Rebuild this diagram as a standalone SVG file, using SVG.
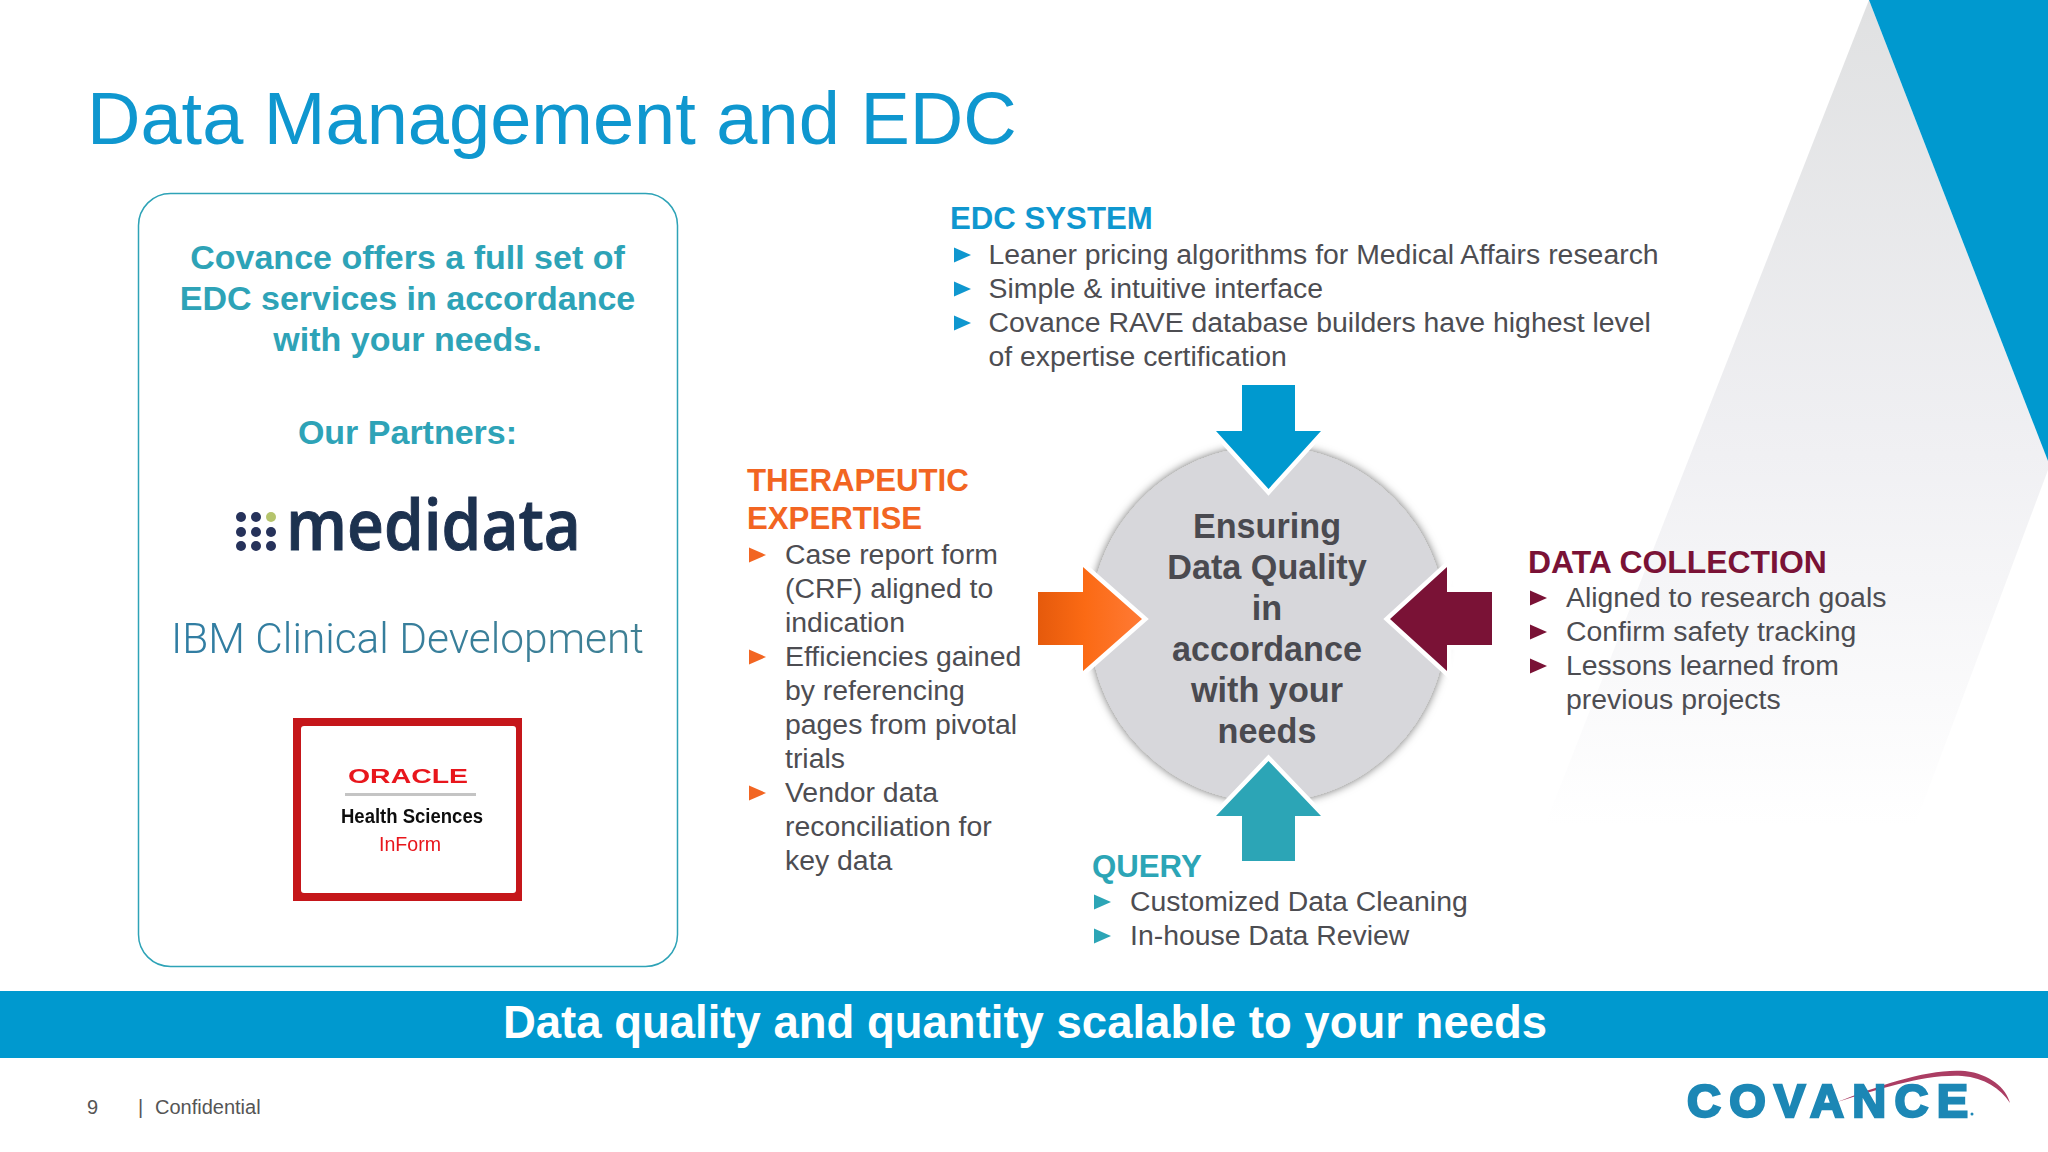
<svg xmlns="http://www.w3.org/2000/svg" width="2048" height="1152" viewBox="0 0 2048 1152">
<style>
text{font-family:"Liberation Sans",Arial,sans-serif}
.body{font-size:28.4px;fill:#4d4d52}
.head{font-size:31.2px;font-weight:700}
.panel{font-size:34px;font-weight:700;fill:#2ea3b7;text-anchor:middle}
.core{font-size:34.2px;font-weight:700;fill:#4a4a50;text-anchor:middle}
.arrow{stroke:#fff;stroke-width:9;stroke-linejoin:miter;stroke-miterlimit:6;paint-order:stroke}
</style>
<defs>
<linearGradient id="gGray" x1="0" y1="0" x2="0" y2="1"><stop offset="0" stop-color="#e0e1e2"/><stop offset=".55" stop-color="#f0f0f3"/><stop offset="1" stop-color="#fff"/></linearGradient>
<linearGradient id="gOrange" x1="0" y1="0" x2="1" y2="0"><stop offset="0" stop-color="#e55a0c"/><stop offset=".45" stop-color="#fb6a14"/><stop offset="1" stop-color="#ff7a35"/></linearGradient>
<linearGradient id="gIbm" x1="0" y1="0" x2="1" y2="0"><stop offset="0" stop-color="#2f7da3"/><stop offset="1" stop-color="#3f8094"/></linearGradient>
<filter id="soft" x="-5%" y="-20%" width="110%" height="140%"><feGaussianBlur stdDeviation="0.7"/></filter>
<filter id="shadow" x="-15%" y="-15%" width="130%" height="130%"><feDropShadow dx="0" dy="0" stdDeviation="5" flood-color="#000" flood-opacity=".6"/></filter>
<polygon id="bul" points="0,-7.5 17,0 0,7.5"/>
</defs>
<rect width="2048" height="1152" fill="#fff"/>
<g id="background">
<polygon points="1869,0 2048,461 2048,470 1915,825 1545,825" fill="url(#gGray)"/>
<polygon points="1869,0 2048,0 2048,461" fill="#0099cf"/>
</g>
<text id="title" x="87" y="144" font-size="74" fill="#0f97cf">Data Management and EDC</text>

<g id="partners-panel">
<rect x="138.500" y="193.500" width="539" height="773" rx="32" fill="#fff" stroke="#2ea3b7" stroke-width="1.500"/>
<text class="panel" x="407.500" y="269">Covance offers a full set of</text>
<text class="panel" x="407.500" y="310">EDC services in accordance</text>
<text class="panel" x="407.500" y="351">with your needs.</text>
<text class="panel" x="407.500" y="444">Our Partners:</text>
</g>
<g id="logo-medidata" filter="url(#soft)">
<g fill="#25305a">
<circle cx="241" cy="517" r="5"/><circle cx="256" cy="517" r="5"/><circle cx="271" cy="517" r="5" fill="#b5c46c"/>
<circle cx="241" cy="532" r="5"/><circle cx="256" cy="532" r="5"/><circle cx="271" cy="532" r="5"/>
<circle cx="241" cy="546" r="5"/><circle cx="256" cy="546" r="5"/><circle cx="271" cy="546" r="5"/>
</g>
<text x="286" y="550" font-size="71" style="font-family:'Open Sans','Liberation Sans',sans-serif" font-weight="600" fill="#1e3050" stroke="#1e3050" stroke-width="1" textLength="295" lengthAdjust="spacingAndGlyphs">medidata</text>
</g>
<g id="logo-ibm" filter="url(#soft)">
<text x="171" y="653" font-size="43" style="font-family:Roboto,'Liberation Sans',sans-serif" font-weight="300" fill="url(#gIbm)" textLength="473" lengthAdjust="spacingAndGlyphs">IBM Clinical Development</text>
</g>
<g id="logo-oracle">
<rect x="293" y="718" width="229" height="183" fill="#c5161a"/>
<rect x="301" y="726" width="215" height="167" rx="3" fill="#fff"/>
<g filter="url(#soft)">
<text x="348" y="783" font-size="20" font-weight="700" fill="#e8141b" textLength="120" lengthAdjust="spacingAndGlyphs">ORACLE</text>
<rect x="345" y="793" width="131" height="3" fill="#c4c4c4"/>
<text x="341" y="823" font-size="19.500" font-weight="700" fill="#111" textLength="142" lengthAdjust="spacingAndGlyphs">Health Sciences</text>
<text x="379" y="851" font-size="19.500" fill="#e8141b" textLength="62" lengthAdjust="spacingAndGlyphs">InForm</text>
</g>
</g>

<g id="core">
<circle cx="1268" cy="624" r="178" fill="#d7d7db" filter="url(#shadow)"/>
<text class="core" x="1267" y="538">Ensuring</text>
<text class="core" x="1267" y="579">Data Quality</text>
<text class="core" x="1267" y="620">in</text>
<text class="core" x="1267" y="661">accordance</text>
<text class="core" x="1267" y="702">with your</text>
<text class="core" x="1267" y="743">needs</text>
</g>

<g id="connectors">
<polygon class="arrow" fill="#0099cf" points="1242,385 1295,385 1295,431 1321,431 1268.500,489 1216,431 1242,431"/>
<polygon class="arrow" fill="#2ca5b6" points="1242,861 1295,861 1295,816 1321,816 1268.500,761 1216,816 1242,816"/>
<polygon class="arrow" fill="url(#gOrange)" points="1038,592 1083,592 1083,567 1142,619 1083,671 1083,645 1038,645"/>
<polygon class="arrow" fill="#7a1236" points="1492,592 1447,592 1447,567 1390,619 1447,671 1447,645 1492,645"/>
</g>

<g id="node-edc-system">
<text class="head" x="950" y="229" fill="#0f97cf">EDC SYSTEM</text>
<g fill="#0f97cf"><use href="#bul" x="954" y="255"/><use href="#bul" x="954" y="289"/><use href="#bul" x="954" y="323"/></g>
<text class="body" x="988.500" y="263.500">Leaner pricing algorithms for Medical Affairs research</text>
<text class="body" x="988.500" y="297.500">Simple &amp; intuitive interface</text>
<text class="body" x="988.500" y="331.500">Covance RAVE database builders have highest level</text>
<text class="body" x="988.500" y="365.500">of expertise certification</text>
</g>
<g id="node-therapeutic-expertise">
<text class="head" x="747" y="491" fill="#f26522">THERAPEUTIC</text>
<text class="head" x="747" y="529" fill="#f26522">EXPERTISE</text>
<g fill="#f26522"><use href="#bul" x="749" y="555"/><use href="#bul" x="749" y="657"/><use href="#bul" x="749" y="793"/></g>
<text class="body" x="785" y="563.500">Case report form</text>
<text class="body" x="785" y="597.500">(CRF) aligned to</text>
<text class="body" x="785" y="631.500">indication</text>
<text class="body" x="785" y="665.500">Efficiencies gained</text>
<text class="body" x="785" y="699.500">by referencing</text>
<text class="body" x="785" y="733.500">pages from pivotal</text>
<text class="body" x="785" y="767.500">trials</text>
<text class="body" x="785" y="802">Vendor data</text>
<text class="body" x="785" y="836">reconciliation for</text>
<text class="body" x="785" y="870">key data</text>
</g>
<g id="node-data-collection">
<text class="head" x="1528" y="573" fill="#7a1236" style="font-size:31.9px">DATA COLLECTION</text>
<g fill="#7a1236"><use href="#bul" x="1530" y="598"/><use href="#bul" x="1530" y="632"/><use href="#bul" x="1530" y="666"/></g>
<text class="body" x="1566" y="606.500">Aligned to research goals</text>
<text class="body" x="1566" y="640.500">Confirm safety tracking</text>
<text class="body" x="1566" y="674.500">Lessons learned from</text>
<text class="body" x="1566" y="708.500">previous projects</text>
</g>
<g id="node-query">
<text class="head" x="1092" y="877" fill="#2ca5b6">QUERY</text>
<g fill="#2ca5b6"><use href="#bul" x="1094" y="902"/><use href="#bul" x="1094" y="936"/></g>
<text class="body" x="1130" y="911">Customized Data Cleaning</text>
<text class="body" x="1130" y="945">In-house Data Review</text>
</g>

<g id="banner">
<rect x="0" y="991" width="2048" height="67" fill="#0099cf"/>
<text x="1025" y="1038" font-size="45.500" font-weight="700" fill="#fff" text-anchor="middle">Data quality and quantity scalable to your needs</text>
</g>
<g id="footer" font-size="20" fill="#555">
<text x="87" y="1114">9</text>
<text x="138" y="1114">|<tspan x="155">Confidential</tspan></text>
</g>
<g id="logo-covance" filter="url(#soft)">
<path d="M1837,1102 C1880,1085 1930,1068 1965,1071 C1990,1074 2006,1088 2010,1103 C2000,1088 1985,1078 1962,1076 C1925,1074 1880,1089 1837,1102Z" fill="#ab3d63"/>
<text x="1687" y="1117" font-size="47" font-weight="700" fill="#1b87b5" stroke="#1b87b5" stroke-width="2.500" textLength="281" lengthAdjust="spacing">COVANCE</text>
<circle cx="1972" cy="1114" r="1.500" fill="#1b87b5"/>
</g>
</svg>
